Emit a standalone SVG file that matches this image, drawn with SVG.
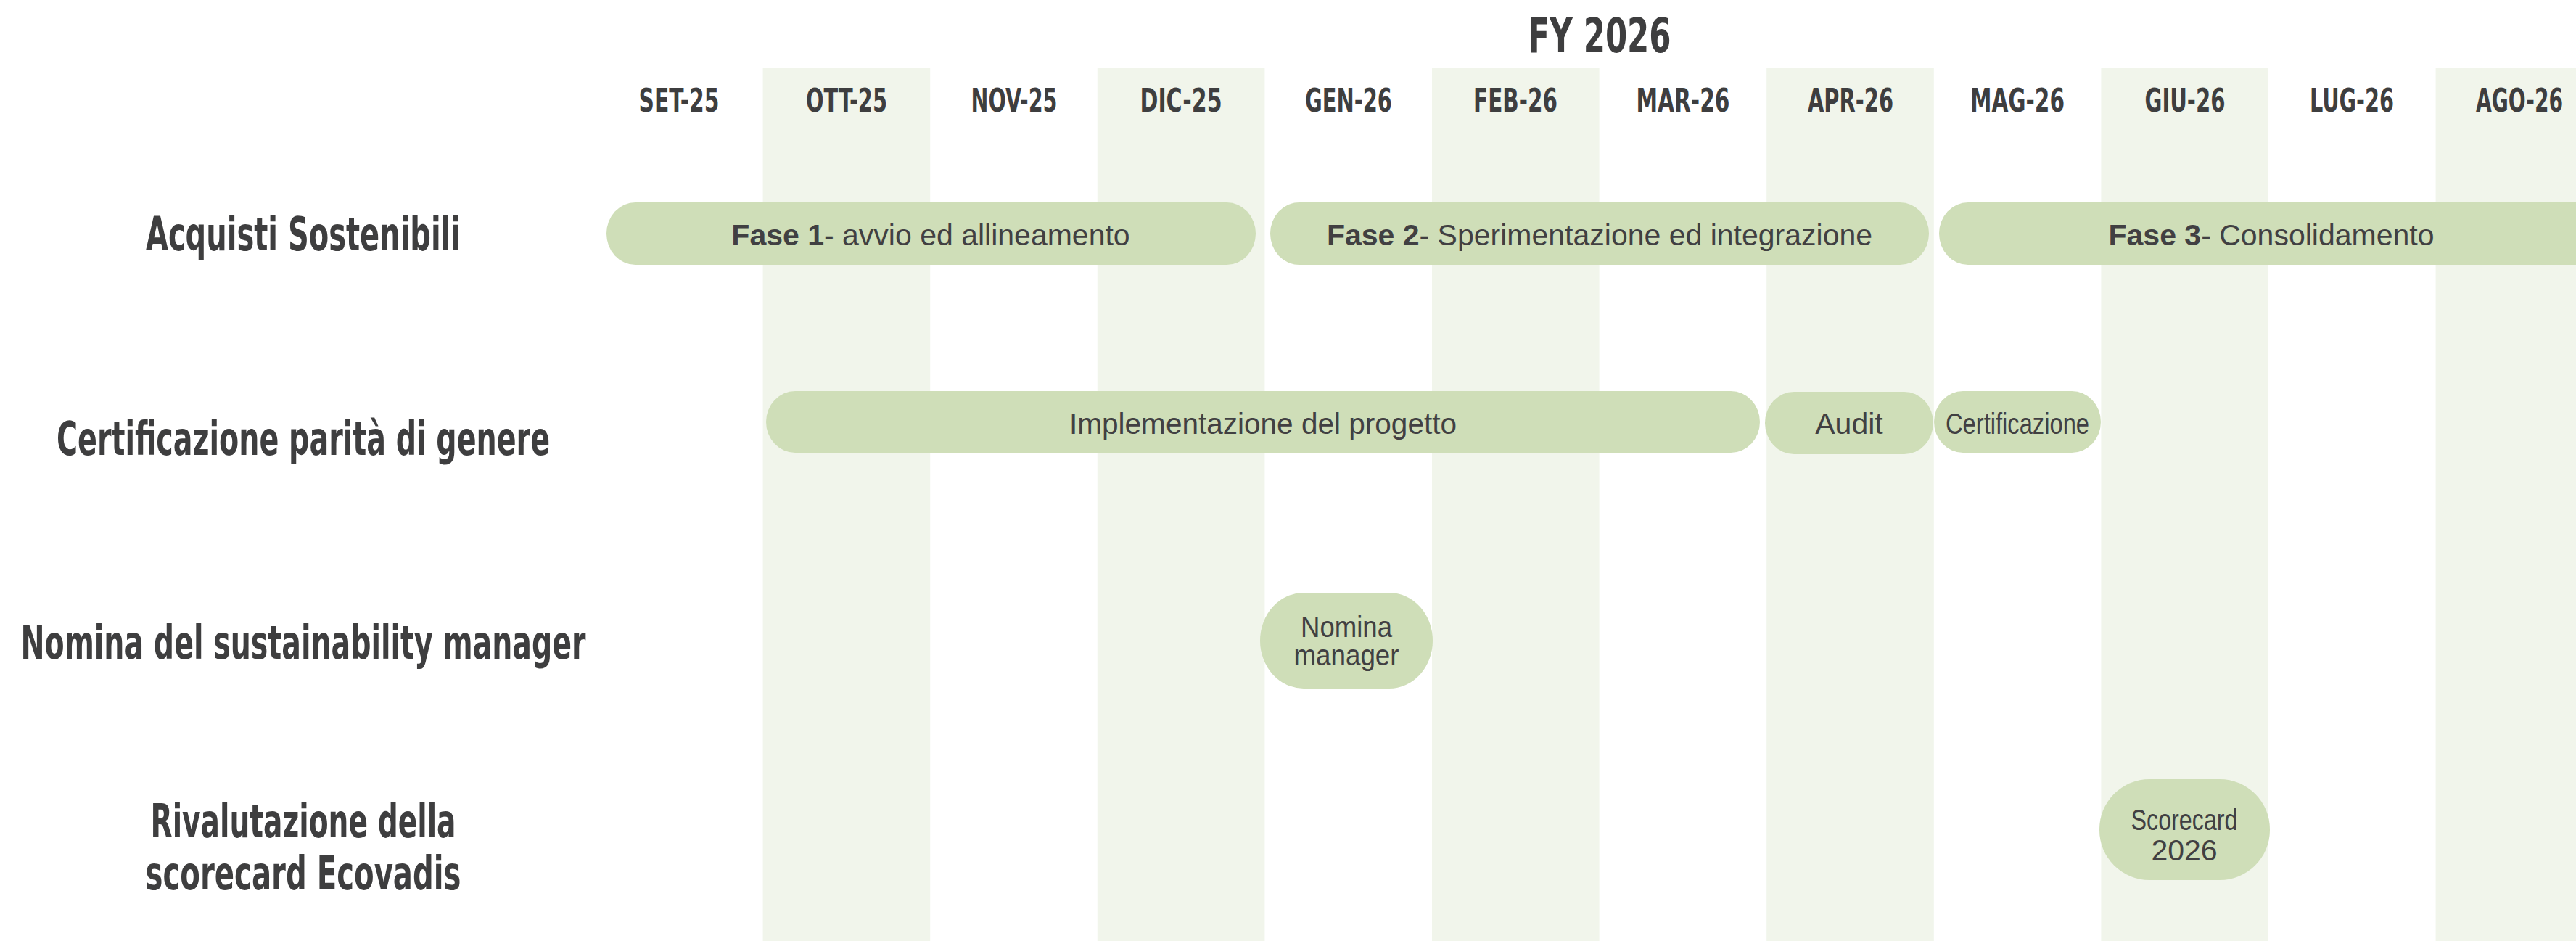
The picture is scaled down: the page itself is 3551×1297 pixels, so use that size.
<svg xmlns="http://www.w3.org/2000/svg" width="3551" height="1297" viewBox="0 0 3551 1297">
<style>
.band{fill:#f1f5eb}
.pill{fill:#cfdeb8}
.cond{font-family:"DejaVu Sans Condensed","DejaVu Sans","Liberation Sans",sans-serif;font-weight:bold;fill:#3e3e3f;text-anchor:middle;font-stretch:condensed}
.month{font-size:44px}
.row{font-size:64px}
.lbl{font-family:"Liberation Sans",Arial,sans-serif;font-size:41px;fill:#414042;text-anchor:middle}
.b{font-weight:bold}
</style>
<rect width="3551" height="1297" fill="#ffffff"/>
<g id="bands">
<rect class="band" x="1051.6" y="94" width="230.6" height="1203"/>
<rect class="band" x="1512.8" y="94" width="230.6" height="1203"/>
<rect class="band" x="1974" y="94" width="230.6" height="1203"/>
<rect class="band" x="2435.2" y="94" width="230.6" height="1203"/>
<rect class="band" x="2896.4" y="94" width="230.6" height="1203"/>
<rect class="band" x="3357.6" y="94" width="230.6" height="1203"/>
</g>
<g id="title">
<text class="cond" x="2205" y="72" font-size="66" textLength="197" lengthAdjust="spacingAndGlyphs">FY 2026</text>
</g>
<g id="months">
<text class="cond month" x="936" y="154" textLength="111" lengthAdjust="spacingAndGlyphs">SET-25</text>
<text class="cond month" x="1167" y="154" textLength="112" lengthAdjust="spacingAndGlyphs">OTT-25</text>
<text class="cond month" x="1398" y="154" textLength="119" lengthAdjust="spacingAndGlyphs">NOV-25</text>
<text class="cond month" x="1628" y="154" textLength="113" lengthAdjust="spacingAndGlyphs">DIC-25</text>
<text class="cond month" x="1859" y="154" textLength="120" lengthAdjust="spacingAndGlyphs">GEN-26</text>
<text class="cond month" x="2089" y="154" textLength="116" lengthAdjust="spacingAndGlyphs">FEB-26</text>
<text class="cond month" x="2320" y="154" textLength="129" lengthAdjust="spacingAndGlyphs">MAR-26</text>
<text class="cond month" x="2551" y="154" textLength="118" lengthAdjust="spacingAndGlyphs">APR-26</text>
<text class="cond month" x="2781" y="154" textLength="130" lengthAdjust="spacingAndGlyphs">MAG-26</text>
<text class="cond month" x="3012" y="154" textLength="111" lengthAdjust="spacingAndGlyphs">GIU-26</text>
<text class="cond month" x="3242" y="154" textLength="116" lengthAdjust="spacingAndGlyphs">LUG-26</text>
<text class="cond month" x="3473" y="154" textLength="120" lengthAdjust="spacingAndGlyphs">AGO-26</text>
</g>
<g id="row-labels">
<text class="cond row" x="418" y="345" textLength="434" lengthAdjust="spacingAndGlyphs">Acquisti Sostenibili</text>
<text class="cond row" x="418" y="627" textLength="680" lengthAdjust="spacingAndGlyphs">Certificazione parità di genere</text>
<text class="cond row" x="418" y="908" textLength="779" lengthAdjust="spacingAndGlyphs">Nomina del sustainability manager</text>
<text class="cond row" x="418" y="1154" textLength="421" lengthAdjust="spacingAndGlyphs">Rivalutazione della</text>
<text class="cond row" x="418" y="1226" textLength="435" lengthAdjust="spacingAndGlyphs">scorecard Ecovadis</text>
</g>
<g id="fase1">
<rect class="pill" x="836" y="279" width="895" height="86" rx="40" ry="43"/>
<text class="lbl" x="1283" y="338"><tspan class="b">Fase 1</tspan>- avvio ed allineamento</text>
</g>
<g id="fase2">
<rect class="pill" x="1751" y="279" width="908" height="86" rx="40" ry="43"/>
<text class="lbl" x="2205" y="338"><tspan class="b">Fase 2</tspan>- Sperimentazione ed integrazione</text>
</g>
<g id="fase3">
<rect class="pill" x="2673" y="279" width="916" height="86" rx="40" ry="43"/>
<text class="lbl" x="3131" y="338"><tspan class="b">Fase 3</tspan>- Consolidamento</text>
</g>
<g id="implementazione">
<rect class="pill" x="1056" y="539" width="1370" height="85" rx="40" ry="42.5"/>
<text class="lbl" x="1741" y="598" textLength="534" lengthAdjust="spacingAndGlyphs">Implementazione del progetto</text>
</g>
<g id="audit">
<rect class="pill" x="2433" y="540" width="232" height="86" rx="40" ry="43"/>
<text class="lbl" x="2549" y="598">Audit</text>
</g>
<g id="certificazione">
<rect class="pill" x="2666" y="539" width="230" height="85" rx="40" ry="42.5"/>
<text class="lbl" x="2781" y="598" textLength="198" lengthAdjust="spacingAndGlyphs">Certificazione</text>
</g>
<g id="nomina">
<rect class="pill" x="1737" y="817" width="238" height="132" rx="60" ry="66"/>
<text class="lbl" x="1856" y="878" textLength="126" lengthAdjust="spacingAndGlyphs">Nomina</text>
<text class="lbl" x="1856" y="917" textLength="145" lengthAdjust="spacingAndGlyphs">manager</text>
</g>
<g id="scorecard">
<rect class="pill" x="2894" y="1074" width="235" height="139" rx="69" ry="69"/>
<text class="lbl" x="3011" y="1144" textLength="147" lengthAdjust="spacingAndGlyphs">Scorecard</text>
<text class="lbl" x="3011" y="1186">2026</text>
</g>
<g id="connectors"></g>
</svg>
